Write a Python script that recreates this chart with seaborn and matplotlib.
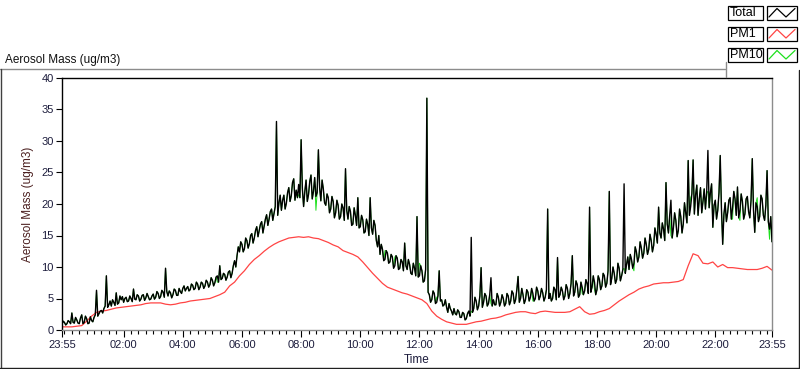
import numpy as np
import pandas as pd
import seaborn as sns
import matplotlib.pyplot as plt
import matplotlib.dates as mdates
from matplotlib.ticker import FixedLocator
from matplotlib.patches import Rectangle
from matplotlib.lines import Line2D

# Total mass, one reading every 5 minutes from 23:55 (one row = one hour)
total = [
    0.9, 1.2, 1.0, 1.3, 2.7, 1.1, 1.6, 1.0, 2.4, 1.2, 1.8, 1.1,
    1.5, 2.0, 6.3, 2.6, 3.1, 3.4, 8.6, 4.0, 3.8, 4.4, 5.9, 4.3,
    4.8, 4.4, 5.2, 4.6, 5.0, 6.5, 4.8, 5.4, 4.9, 5.6, 5.1, 5.3,
    4.9, 5.7, 5.2, 5.8, 5.3, 6.0, 9.8, 5.4, 5.9, 5.6, 6.3, 5.5,
    6.1, 6.6, 6.2, 6.9, 6.4, 7.1, 6.6, 7.3, 6.8, 7.4, 7.0, 7.6,
    7.2, 7.9, 7.5, 8.6, 10.2, 8.2, 8.8, 8.4, 9.4, 9.0, 11.0, 11.8,
    12.4, 13.6, 12.9, 14.2, 13.7, 15.3, 14.6, 16.4, 15.8, 17.2, 16.5, 18.3,
    17.6, 19.2, 18.5, 33.1, 20.2, 19.0, 21.4, 20.1, 22.6, 21.3, 24.0, 22.2,
    23.1, 30.2, 19.6, 23.8, 21.5, 24.6, 22.0, 21.2, 28.6, 20.5, 22.4, 19.8,
    21.0, 19.2, 20.4, 18.6, 19.8, 18.0, 19.4, 25.6, 17.6, 18.8, 16.8, 18.2,
    21.0, 16.4, 17.5, 15.6, 16.8, 21.0, 15.2, 16.6, 13.2, 12.0, 12.8, 11.2,
    12.2, 10.8, 11.6, 10.2, 11.4, 9.8, 10.8, 13.8, 9.6, 10.4, 8.8, 9.8,
    18.0, 8.6, 9.4, 7.8, 36.8, 5.6, 4.8, 5.8, 4.4, 9.4, 4.8, 4.0,
    3.6, 4.2, 3.0, 3.4, 2.4, 2.9, 2.0, 2.6, 1.8, 3.0, 14.7, 3.4,
    4.6, 3.8, 9.9, 4.4, 5.4, 4.2, 8.3, 4.8, 4.0, 5.2, 4.4, 5.0,
    4.2, 5.4, 4.6, 5.8, 4.8, 8.5, 5.0, 5.6, 4.8, 6.0, 5.2, 5.8,
    5.0, 6.2, 5.4, 5.9, 5.2, 19.2, 5.8, 5.0, 6.4, 11.5, 5.6, 6.2,
    5.4, 6.6, 5.8, 11.8, 6.0, 7.2, 5.6, 6.8, 6.2, 7.4, 19.5, 6.8,
    7.6, 6.4, 8.0, 7.0, 8.6, 7.4, 22.0, 8.2, 9.0, 8.0, 9.8, 8.6,
    23.2, 10.4, 9.6, 11.2, 10.6, 12.4, 11.6, 13.0, 12.2, 13.6, 12.8, 14.2,
    13.4, 15.2, 19.5, 14.6, 16.0, 23.4, 15.4, 20.6, 16.2, 17.4, 15.8, 18.0,
    16.8, 18.6, 26.9, 19.6, 27.0, 21.4, 18.2, 22.6, 20.4, 19.2, 28.5, 21.8,
    16.3, 20.6, 19.0, 27.7, 13.6, 20.2, 18.6, 21.0, 19.4, 20.8, 22.7, 19.0,
    20.4, 18.4, 21.2, 17.8, 27.2, 15.5, 19.6, 18.0, 20.8, 17.4, 25.3, 16.0,
    14.0,
]

# Total mass read half way between those (2.5 minutes later), other side of the noise band
total_mid = [
    1.4, 0.8, 1.5, 1.0, 1.2, 2.0, 1.1, 1.9, 1.0, 2.2, 1.0, 2.1,
    1.3, 2.4, 2.2, 3.0, 2.7, 3.8, 3.6, 4.6, 4.8, 3.9, 4.1, 5.4,
    5.3, 5.0, 4.5, 5.4, 4.5, 4.9, 5.6, 4.6, 5.5, 4.7, 5.8, 4.8,
    5.4, 4.9, 6.1, 5.0, 6.3, 5.2, 6.1, 6.2, 5.1, 6.5, 5.5, 6.6,
    5.8, 7.0, 6.6, 6.2, 7.3, 6.4, 7.6, 6.4, 7.6, 6.6, 7.9, 6.8,
    8.3, 7.0, 8.4, 7.6, 8.0, 9.0, 7.9, 9.2, 8.3, 10.2, 10.0, 13.2,
    14.0, 12.4, 14.6, 13.0, 15.0, 13.8, 15.8, 14.8, 16.8, 15.4, 17.6, 16.6,
    18.8, 17.4, 19.6, 18.2, 21.4, 20.6, 19.2, 21.8, 20.4, 23.4, 20.6, 21.0,
    21.0, 22.4, 22.0, 20.4, 23.6, 20.8, 24.2, 21.8, 22.6, 23.8, 20.2, 21.6,
    18.6, 21.2, 17.8, 20.6, 17.6, 20.0, 17.4, 19.0, 19.6, 16.6, 19.4, 16.6,
    16.2, 18.2, 15.4, 17.6, 15.0, 16.2, 17.4, 14.2, 15.0, 13.6, 11.0, 12.6,
    10.6, 12.0, 9.8, 11.8, 9.6, 11.2, 9.4, 10.2, 11.2, 9.0, 10.6, 8.6,
    8.4, 10.2, 7.6, 9.6, 6.0, 4.4, 6.2, 4.2, 5.4, 4.6, 3.8, 4.8,
    2.8, 3.4, 2.4, 2.6, 3.2, 2.0, 2.8, 1.6, 2.6, 2.2, 2.8, 5.2,
    3.2, 5.4, 3.6, 5.8, 3.8, 5.6, 3.8, 4.0, 5.8, 3.8, 5.6, 3.8,
    5.8, 4.0, 6.2, 4.2, 6.4, 4.4, 6.6, 4.2, 6.4, 4.6, 6.6, 4.6,
    6.8, 4.8, 6.6, 4.6, 6.4, 5.0, 4.6, 6.8, 4.8, 5.2, 6.8, 4.8,
    7.2, 5.0, 7.4, 5.4, 7.8, 5.2, 7.6, 5.6, 8.0, 5.8, 6.0, 8.6,
    5.6, 8.6, 6.4, 9.0, 6.8, 9.4, 7.2, 10.0, 7.4, 10.6, 7.8, 9.6,
    9.0, 11.6, 12.0, 9.8, 13.2, 10.8, 14.0, 11.4, 14.6, 12.0, 15.2, 12.4,
    16.2, 13.8, 15.4, 17.0, 14.2, 16.8, 18.2, 14.6, 18.6, 14.8, 19.2, 15.4,
    20.2, 17.0, 18.2, 21.6, 18.4, 23.0, 20.8, 18.6, 22.4, 21.8, 19.4, 23.2,
    19.8, 17.6, 21.8, 19.2, 18.4, 17.2, 20.6, 17.6, 22.0, 18.2, 17.8, 21.6,
    17.6, 20.8, 18.8, 20.6, 19.0, 20.2, 17.2, 21.4, 18.2, 19.8, 17.2, 18.0,
]

# PM1, one reading every 10 minutes from 23:55
pm1 = [
    0.5, 0.5, 0.5, 0.6, 0.7, 1.4, 2.2, 2.8, 3.0, 3.1, 3.3, 3.5,
    3.6, 3.7, 3.8, 3.9, 4.0, 4.2, 4.3, 4.3, 4.3, 4.1, 4.0, 4.1,
    4.3, 4.4, 4.6, 4.7, 4.8, 4.9, 5.0, 5.3, 5.6, 6.0, 7.0, 7.6,
    8.6, 9.4, 10.4, 11.2, 11.8, 12.5, 13.1, 13.6, 14.0, 14.3, 14.6, 14.7,
    14.8, 14.7, 14.8, 14.6, 14.5, 14.2, 13.9, 13.5, 13.2, 12.6, 12.3, 12.0,
    11.6, 10.8, 9.9, 9.0, 8.2, 7.4, 6.8, 6.5, 6.2, 5.9, 5.7, 5.4,
    5.1, 4.8, 4.2, 3.0, 2.2, 1.7, 1.3, 1.1, 0.9, 0.9, 0.9, 1.1,
    1.3, 1.4, 1.6, 1.8, 1.9, 2.1, 2.4, 2.6, 2.8, 2.9, 2.9, 2.7,
    2.6, 2.9, 3.0, 2.9, 2.8, 2.8, 2.8, 2.9, 3.3, 3.7, 2.9, 2.5,
    2.6, 2.9, 3.1, 3.4, 4.0, 4.6, 5.1, 5.6, 6.0, 6.5, 6.8, 7.0,
    7.3, 7.4, 7.5, 7.5, 7.6, 7.7, 8.0, 10.2, 12.1, 11.8, 10.6, 10.5,
    10.8, 10.0, 10.4, 9.9, 9.9, 9.8, 9.7, 9.6, 9.6, 9.6, 9.8, 10.1,
    9.5,
]

# PM10 runs on top of Total except at these 5-minute readings
pm10_idx = [63, 96, 103, 131, 135, 145, 152, 166, 174, 191, 211, 216,
            228, 232, 247, 255, 262, 272, 275, 282, 287]
pm10_val = [7.6, 21.5, 19.0, 12.6, 11.6, 10.6, 5.2, 3.0, 4.2, 4.6, 5.8, 6.4,
            9.8, 9.4, 15.0, 21.0, 22.0, 17.6, 17.4, 21.0, 14.4]

# interleave the two readings into one 2.5-minute series
total_all = np.empty(len(total) + len(total_mid))
total_all[0::2] = total
total_all[1::2] = total_mid
pm10 = total_all.copy()
pm10[[2 * i for i in pm10_idx]] = pm10_val

start = pd.Timestamp('2015-06-01 23:55')
end = start + pd.Timedelta(hours=24)
df_total = pd.DataFrame({'time': pd.date_range(start, periods=len(total_all), freq='150s'),
                         'Total': total_all, 'PM10': pm10})
df_pm1 = pd.DataFrame({'time': pd.date_range(start, periods=len(pm1), freq='10min'),
                       'PM1': pm1})

sns.set_style('white')
plt.rcParams['font.family'] = ['Liberation Sans', 'DejaVu Sans']

W, H = 800, 369
fig = plt.figure(figsize=(W / 100, H / 100), dpi=100)
fx = lambda px: px / W
fy = lambda py: 1 - py / H

ax = fig.add_axes([fx(62), fy(330), fx(710), (330 - 78) / H])

sns.lineplot(data=df_total, x='time', y='PM10', ax=ax, color='#1ee01e', lw=0.7, zorder=2)
sns.lineplot(data=df_pm1, x='time', y='PM1', ax=ax, color='#ff4444', lw=0.9, zorder=2)
sns.lineplot(data=df_total, x='time', y='Total', ax=ax, color='black', lw=1.0, zorder=3)

ax.set_xlim(start, end)
ax.set_ylim(0, 40)
ax.set_yticks(range(0, 41, 5))

major = [start] + list(pd.date_range('2015-06-02 02:00', '2015-06-02 22:00', freq='2h')) + [end]
minor = pd.date_range('2015-06-02 00:00', '2015-06-02 23:45', freq='15min')
ax.xaxis.set_major_locator(FixedLocator(mdates.date2num(major)))
ax.xaxis.set_minor_locator(FixedLocator(mdates.date2num(minor)))
ax.xaxis.set_major_formatter(mdates.DateFormatter('%H:%M'))

tick_col = '#1c1c3c'
ax.tick_params(axis='both', which='major', direction='out', length=4, width=0.8,
               color='black', labelsize=8, labelcolor=tick_col, pad=2)
ax.tick_params(axis='x', which='major', length=5)
ax.tick_params(axis='x', which='minor', direction='out', length=3, width=0.8, color='black')
ax.tick_params(bottom=True, left=True, which='both')
ax.tick_params(axis='y', which='minor', left=False)

ax.set_xlabel('Time', fontsize=8.5, color=tick_col, labelpad=3)
ax.set_ylabel('Aerosol Mass (ug/m3)', fontsize=8.5, color='#4a1e1e', labelpad=5)

for side in ['top', 'left']:
    ax.spines[side].set_color('black')
for side in ['right', 'bottom']:
    ax.spines[side].set_color('#8c8c8c')
for s in ax.spines.values():
    s.set_linewidth(1.0)

# panel title and frame
fig.text(fx(5), fy(60), 'Aerosol Mass (ug/m3)', fontsize=8.5, color='#111111', va='center', ha='left')
frame = [([0, 725], [68.5, 68.5], '#8c8c8c'),
         ([725.5, 725.5], [62, 77], '#8c8c8c'),
         ([0.5, 0.5], [68.5, 368], '#404040'),
         ([0, 799], [367.5, 367.5], '#202020'),
         ([798.5, 798.5], [70, 368], '#202020')]
for xs, ys, col in frame:
    fig.add_artist(Line2D([fx(v) for v in xs], [fy(v) for v in ys], color=col, lw=1.0))

# legend boxes
legend_names = ['Total', 'PM1', 'PM10']
legend_cols = ['black', '#ff4444', '#1ee01e']
for k, (name, col) in enumerate(zip(legend_names, legend_cols)):
    top = 6 + 21 * k
    bot = top + 14
    fig.add_artist(Rectangle((fx(728), fy(bot)), fx(35), (bot - top) / H, transform=fig.transFigure,
                             facecolor='white', edgecolor='black', lw=0.9))
    fig.add_artist(Rectangle((fx(767), fy(bot)), fx(30), (bot - top) / H, transform=fig.transFigure,
                             facecolor='white', edgecolor='black', lw=0.9))
    fig.text(fx(730), fy((top + bot) / 2), name, fontsize=9, color='black', va='center', ha='left')
    fig.add_artist(Line2D([fx(769), fx(777), fx(786), fx(795)],
                          [fy(bot - 3), fy(top + 2.5), fy(bot - 3), fy(top + 2.5)],
                          color=col, lw=0.9))

fig.savefig('out.png', dpi=100, facecolor='white')
